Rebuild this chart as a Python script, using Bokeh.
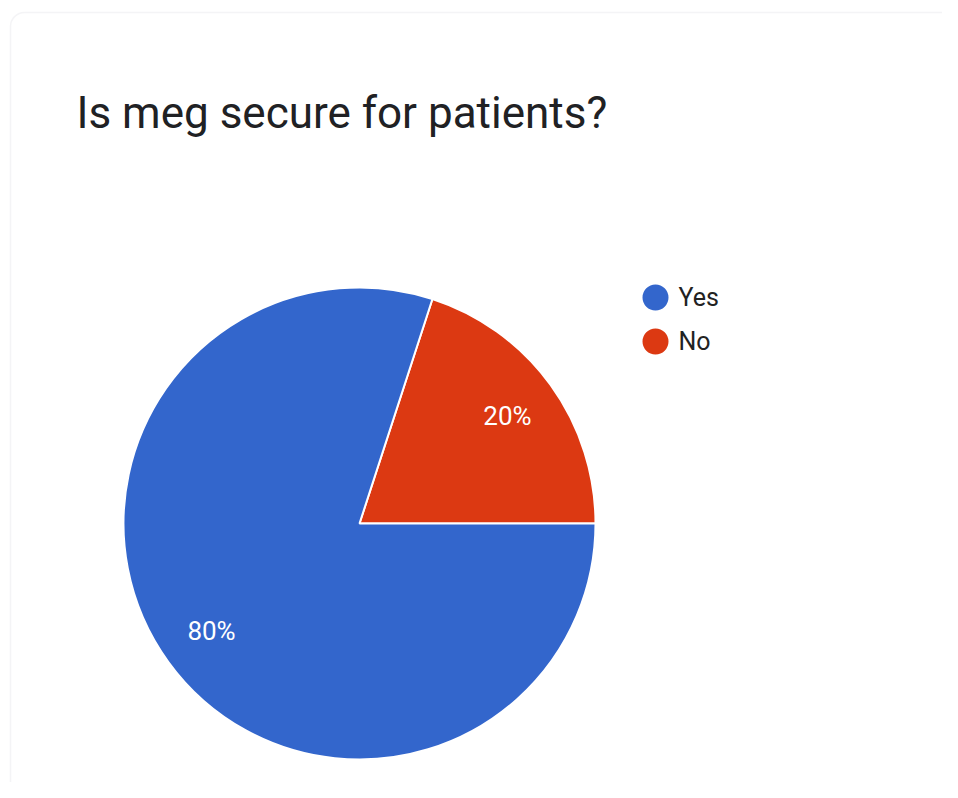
import math
from bokeh.plotting import figure
from bokeh.models import Range1d, ColumnDataSource, BoxAnnotation
from bokeh.core.properties import value
from bokeh.embed import file_html
from bokeh.resources import INLINE

title = "Is meg secure for patients?"
categories = ["No", "Yes"]          # drawing order (No starts at 3 o'clock)
percents = [20, 80]
colors = ["#DC3912", "#3366CC"]
legend_order = ["Yes", "No"]
legend_colors = ["#3366CC", "#DC3912"]

W, H = 942, 782
p = figure(width=W, height=H, output_backend="svg", toolbar_location=None,
           x_range=Range1d(0, W), y_range=Range1d(0, H), min_border=0,
           background_fill_color="white", border_fill_color="white")
p.axis.visible = False
p.grid.visible = False
p.outline_line_color = None

# card border
p.add_layout(BoxAnnotation(left=10, right=W + 40, top=12, bottom=H + 40,
                           left_units="canvas", right_units="canvas",
                           top_units="canvas", bottom_units="canvas",
                           fill_color=None, line_color="#dadce0", line_width=1.5,
                           border_radius=14))

cx, cy, r = 359, H - 523, 236
total = sum(percents)
starts, ends, acc = [], [], 0.0
for v in percents:
    starts.append(acc / total * 2 * math.pi)
    acc += v
    ends.append(acc / total * 2 * math.pi)
src = ColumnDataSource(dict(cat=categories, start=starts, end=ends, color=colors,
                            pct=[f"{v}%" for v in percents]))
p.wedge(x=cx, y=cy, radius=r, start_angle="start", end_angle="end",
        fill_color="color", line_color="white", line_width=2, source=src)

lr = 0.775 * r
mids = [(s + e) / 2 for s, e in zip(starts, ends)]
p.text(x=[cx + lr * math.cos(m) for m in mids], y=[cy + lr * math.sin(m) for m in mids],
       text=[f"{v}%" for v in percents], text_color="white", text_align="center",
       text_baseline="middle", text_font=value("Roboto"), text_font_size="26px")

# title
p.text(x=[76], y=[H - 112], text=[title], text_color="#202124", text_font=value("Roboto"),
       text_font_size="44px", text_baseline="alphabetic", text_align="left")

# legend
ly = [H - 297 - 44 * i for i in range(len(legend_order))]
p.scatter(x=[655] * len(legend_order), y=ly, size=26, marker="circle",
          fill_color=legend_colors, line_color=None)
p.text(x=[678] * len(legend_order), y=ly, text=legend_order, text_color="#222222",
       text_font=value("Roboto"), text_font_size="25px", text_baseline="middle")

open("out.html", "w").write(file_html(p, INLINE))
